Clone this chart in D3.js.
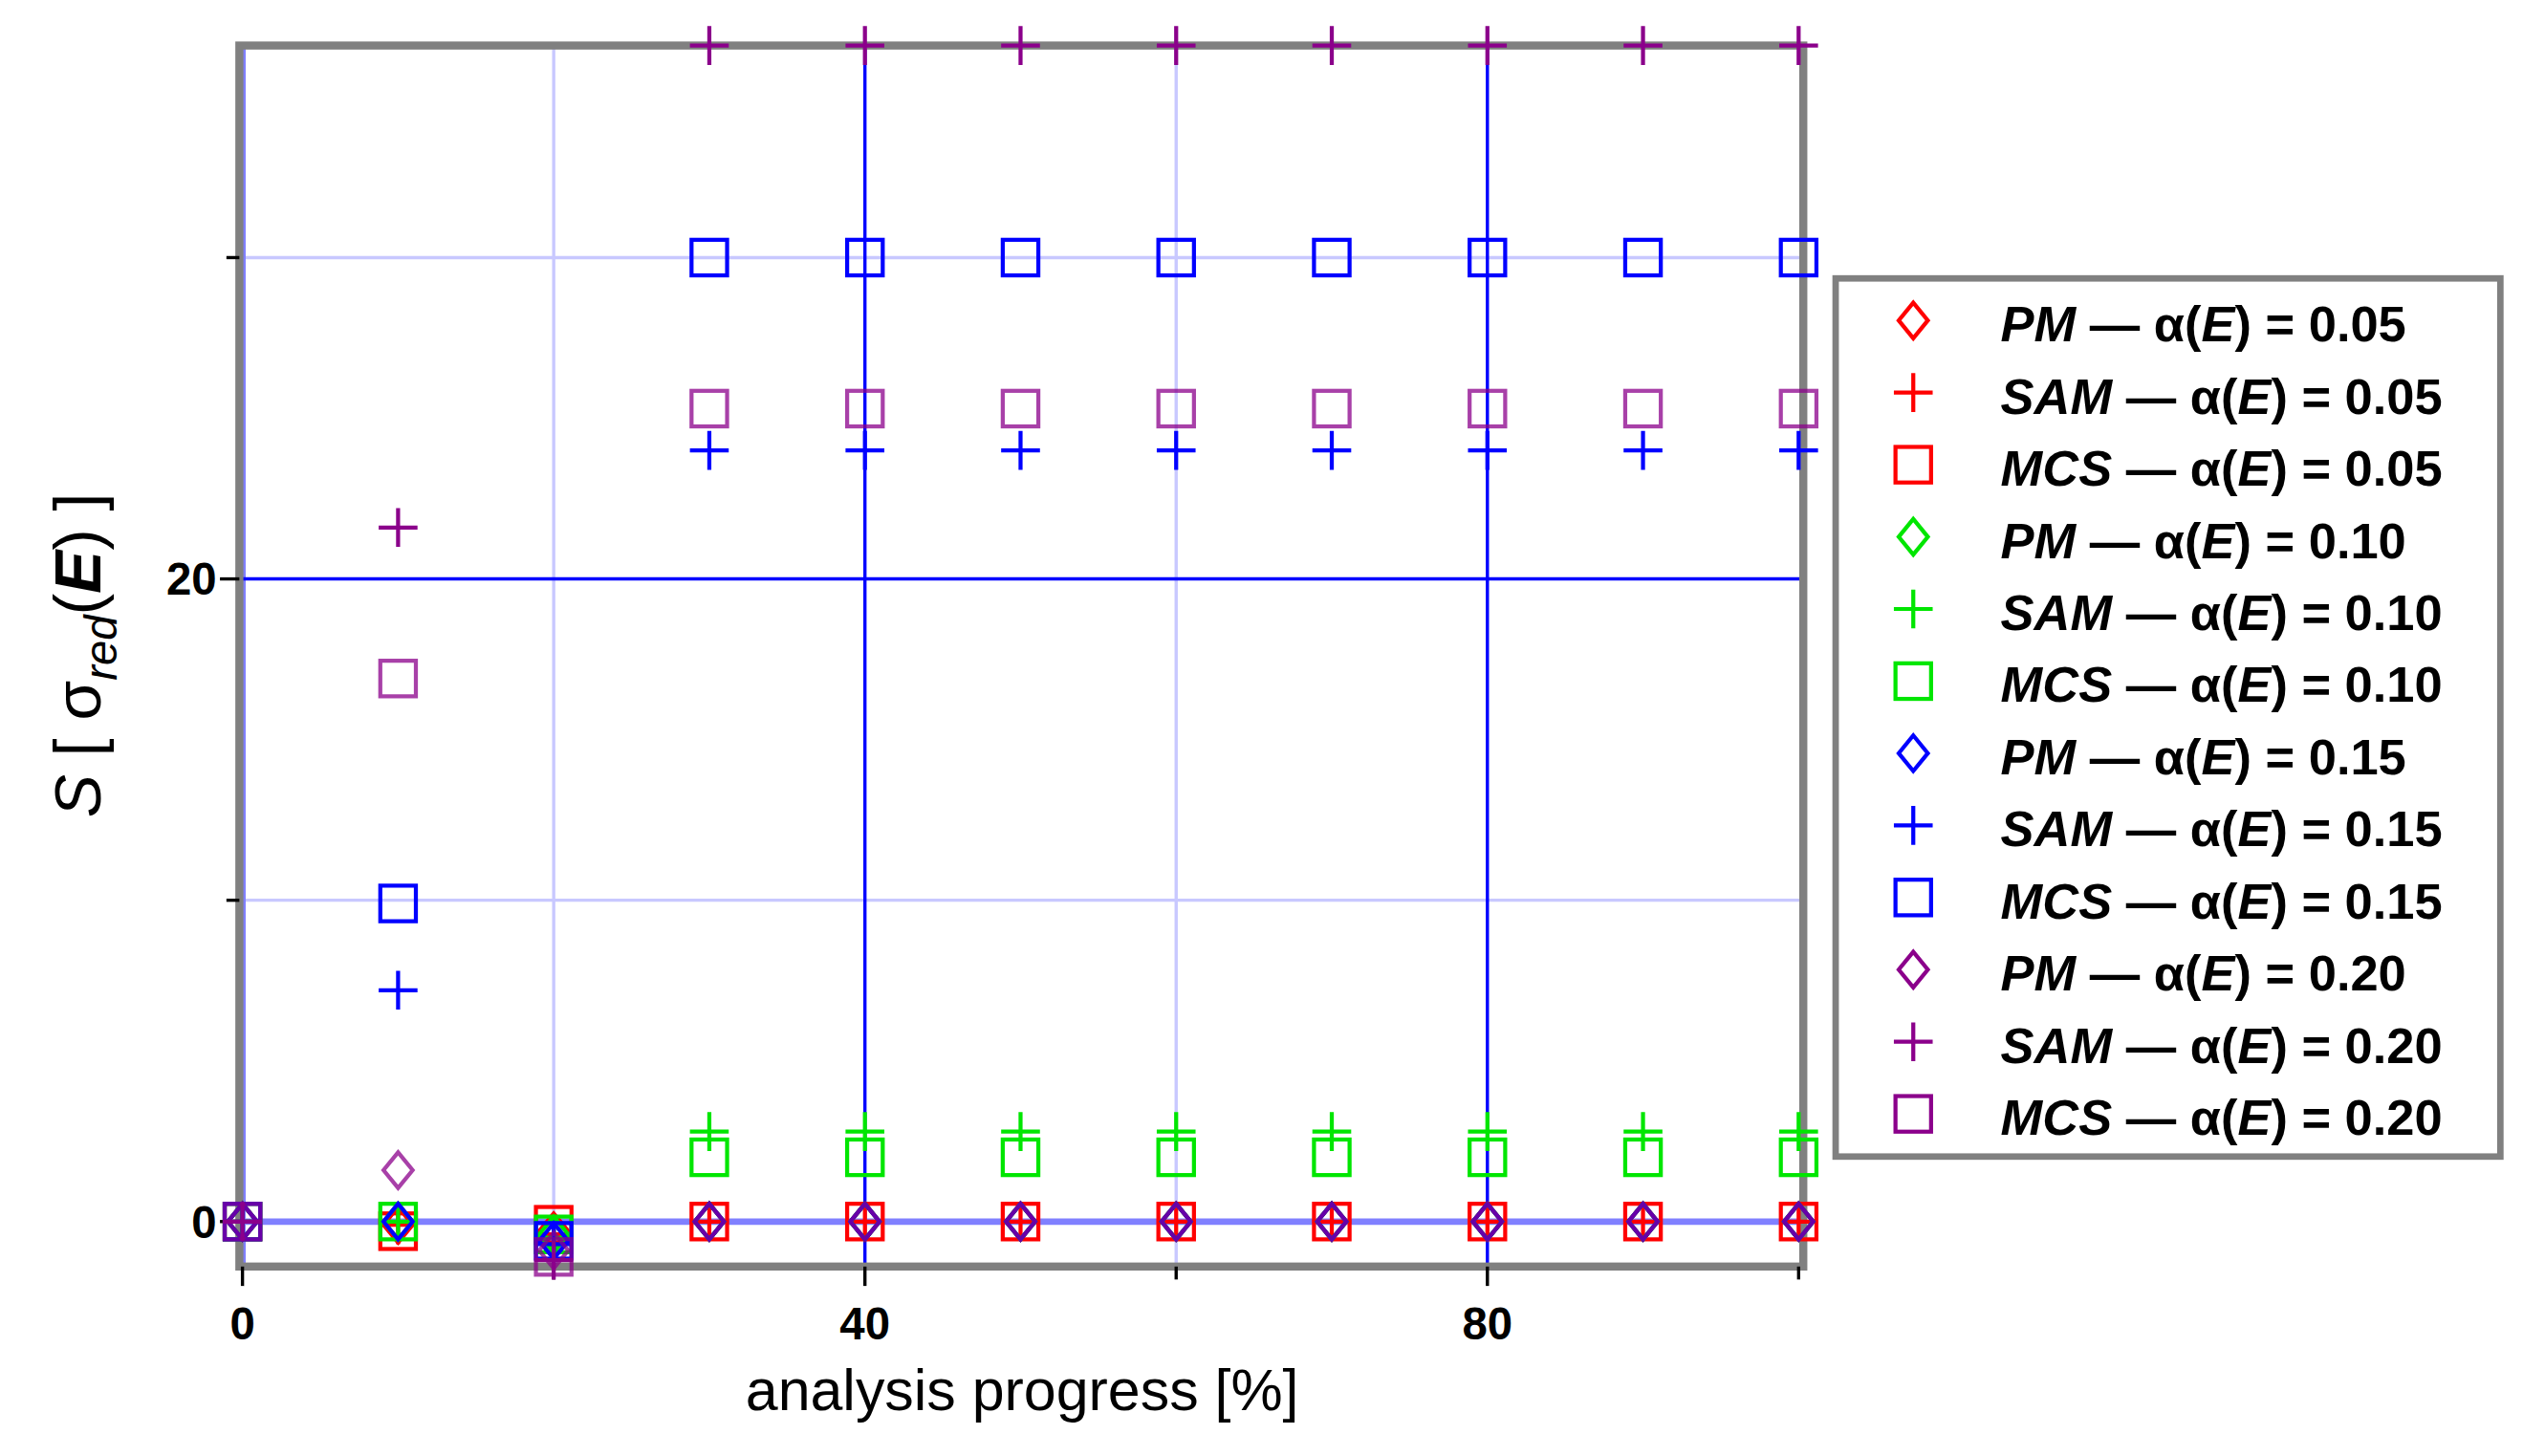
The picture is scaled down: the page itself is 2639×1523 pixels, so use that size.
<!DOCTYPE html>
<html><head><meta charset="utf-8">
<script src="https://cdn.jsdelivr.net/npm/d3@7"></script>
<style>body{margin:0;background:#fff}svg{display:block}text{font-family:"Liberation Sans",Arial,sans-serif}</style>
</head><body>
<svg id="chart" width="2639" height="1523" viewBox="0 0 1560 900"></svg>
<script>
const progress = [0, 10, 20, 30, 40, 50, 60, 70, 80, 90, 100];
const alphas = ["0.05", "0.10", "0.15", "0.20"];
const methods = ["PM", "SAM", "MCS"];
const colors = ["#ff0000", "#00e600", "#0000ff", "#8b008b"];
const series = [
  // alpha 0.05
  [0, -0.1, -0.3, 0, 0, 0, 0, 0, 0, 0, 0],
  [0, -0.1, -0.4, 0, 0, 0, 0, 0, 0, 0, 0],
  [0, -0.3, -0.1, 0, 0, 0, 0, 0, 0, 0, 0],
  // alpha 0.10
  [0, 0, -0.4, 0, 0, 0, 0, 0, 0, 0, 0],
  [0, 0, -0.5, 2.8, 2.8, 2.8, 2.8, 2.8, 2.8, 2.8, 2.8],
  [0, 0, -0.4, 2.0, 2.0, 2.0, 2.0, 2.0, 2.0, 2.0, 2.0],
  // alpha 0.15
  [0, 0, -0.6, 0, 0, 0, 0, 0, 0, 0, 0],
  [0, 7.2, -0.7, 24.0, 24.0, 24.0, 24.0, 24.0, 24.0, 24.0, 24.0],
  [0, 9.9, -0.6, 30.0, 30.0, 30.0, 30.0, 30.0, 30.0, 30.0, 30.0],
  // alpha 0.20
  [0, 1.6, -0.9, 0, 0, 0, 0, 0, 0, 0, 0],
  [0, 21.6, -1.2, 36.6, 36.6, 36.6, 36.6, 36.6, 36.6, 36.6, 36.6],
  [0, 16.9, -1.1, 25.3, 25.3, 25.3, 25.3, 25.3, 25.3, 25.3, 25.3]
];
const xMajor = [0, 40, 80], xMinor = [20, 60];
const yMajor = [0, 20], yMinor = [10, 30];

const svg = d3.select("#chart");
const L = 148, R = 1115, T = 28, B = 783;
const x = d3.scaleLinear().domain([-0.2, 100.3]).range([L, R]);
const y = d3.scaleLinear().domain([-1.4, 36.6]).range([B, T]);

// grid
xMinor.forEach(v => svg.append("line").attr("x1", x(v)).attr("x2", x(v)).attr("y1", T).attr("y2", B).attr("stroke", "#c8c8ff").attr("stroke-width", 2));
yMinor.forEach(v => svg.append("line").attr("x1", L).attr("x2", R).attr("y1", y(v)).attr("y2", y(v)).attr("stroke", "#c8c8ff").attr("stroke-width", 2));
xMajor.forEach(v => svg.append("line").attr("x1", x(v)).attr("x2", x(v)).attr("y1", T).attr("y2", B).attr("stroke", v === 0 ? "#8080ff" : "#0000ff").attr("stroke-width", v === 0 ? 4 : 2));
yMajor.forEach(v => svg.append("line").attr("x1", L).attr("x2", R).attr("y1", y(v)).attr("y2", y(v)).attr("stroke", v === 0 ? "#8080ff" : "#0000ff").attr("stroke-width", v === 0 ? 4 : 2));

// frame
svg.append("rect").attr("x", L).attr("y", T).attr("width", R - L).attr("height", B - T).attr("fill", "none").attr("stroke", "#808080").attr("stroke-width", 5);

// ticks
xMajor.forEach(v => {
  svg.append("line").attr("x1", x(v)).attr("x2", x(v)).attr("y1", B).attr("y2", B + 12).attr("stroke", "#000").attr("stroke-width", 2);
  svg.append("text").attr("x", x(v)).attr("y", B + 45).attr("text-anchor", "middle").attr("font-size", 28).attr("font-weight", "bold").text(v);
});
xMinor.concat([100]).forEach(v => svg.append("line").attr("x1", x(v)).attr("x2", x(v)).attr("y1", B).attr("y2", B + 8).attr("stroke", "#000").attr("stroke-width", 2));
yMajor.forEach(v => {
  svg.append("line").attr("x1", L - 12).attr("x2", L).attr("y1", y(v)).attr("y2", y(v)).attr("stroke", "#000").attr("stroke-width", 2);
  svg.append("text").attr("x", L - 14).attr("y", y(v) + 10).attr("text-anchor", "end").attr("font-size", 28).attr("font-weight", "bold").text(v);
});
yMinor.forEach(v => svg.append("line").attr("x1", L - 8).attr("x2", L).attr("y1", y(v)).attr("y2", y(v)).attr("stroke", "#000").attr("stroke-width", 2));

// axis titles
svg.append("text").attr("x", 632).attr("y", 872).attr("text-anchor", "middle").attr("font-size", 36).text("analysis progress [%]");
const yt = svg.append("text").attr("transform", "translate(62,405) rotate(-90)").attr("text-anchor", "middle").attr("font-size", 40);
yt.append("tspan").attr("font-style", "italic").text("S ");
yt.append("tspan").text("[ σ");
yt.append("tspan").attr("font-style", "italic").attr("font-size", 28).attr("dy", 10).text("red");
yt.append("tspan").attr("dy", -10).text("(");
yt.append("tspan").attr("font-style", "italic").attr("font-weight", "bold").text("E");
yt.append("tspan").text(") ]");

// markers
function marker(g, m, color) {
  if (m === "PM") g.append("path").attr("d", "M0,-11L9,0L0,11L-9,0Z").attr("fill", "none").attr("stroke", color).attr("stroke-width", 2.5);
  else if (m === "SAM") g.append("path").attr("d", "M-12,0H12M0,-12V12").attr("stroke", color).attr("stroke-width", 2.5);
  else g.append("rect").attr("x", -11).attr("y", -11).attr("width", 22).attr("height", 22).attr("fill", "none").attr("stroke", color).attr("stroke-width", 2.5);
}
const plot = svg.append("g");
series.forEach((vals, i) => {
  const a = Math.floor(i / 3), m = methods[i % 3];
  const op = a === 3 && m !== "SAM" ? 0.75 : 1;
  vals.forEach((v, j) => {
    const g = plot.append("g").attr("transform", `translate(${x(progress[j])},${y(v)})`).attr("opacity", op);
    marker(g, m, colors[a]);
  });
});

// legend
const lg = svg.append("g");
lg.append("rect").attr("x", 1135).attr("y", 172).attr("width", 411).attr("height", 543).attr("fill", "#fff").attr("stroke", "#808080").attr("stroke-width", 4);
series.forEach((vals, i) => {
  const a = Math.floor(i / 3), m = methods[i % 3];
  const cy = 200 + i * 44.6;
  const g = lg.append("g").attr("transform", `translate(1183,${cy - 2})`);
  marker(g, m, colors[a]);
  const t = lg.append("text").attr("x", 1237).attr("y", cy + 11).attr("font-size", 31).attr("font-weight", "bold");
  t.append("tspan").attr("font-style", "italic").text(m);
  t.append("tspan").text(" — α(");
  t.append("tspan").attr("font-style", "italic").text("E");
  t.append("tspan").text(") = " + alphas[a]);
});
</script>
</body></html>
